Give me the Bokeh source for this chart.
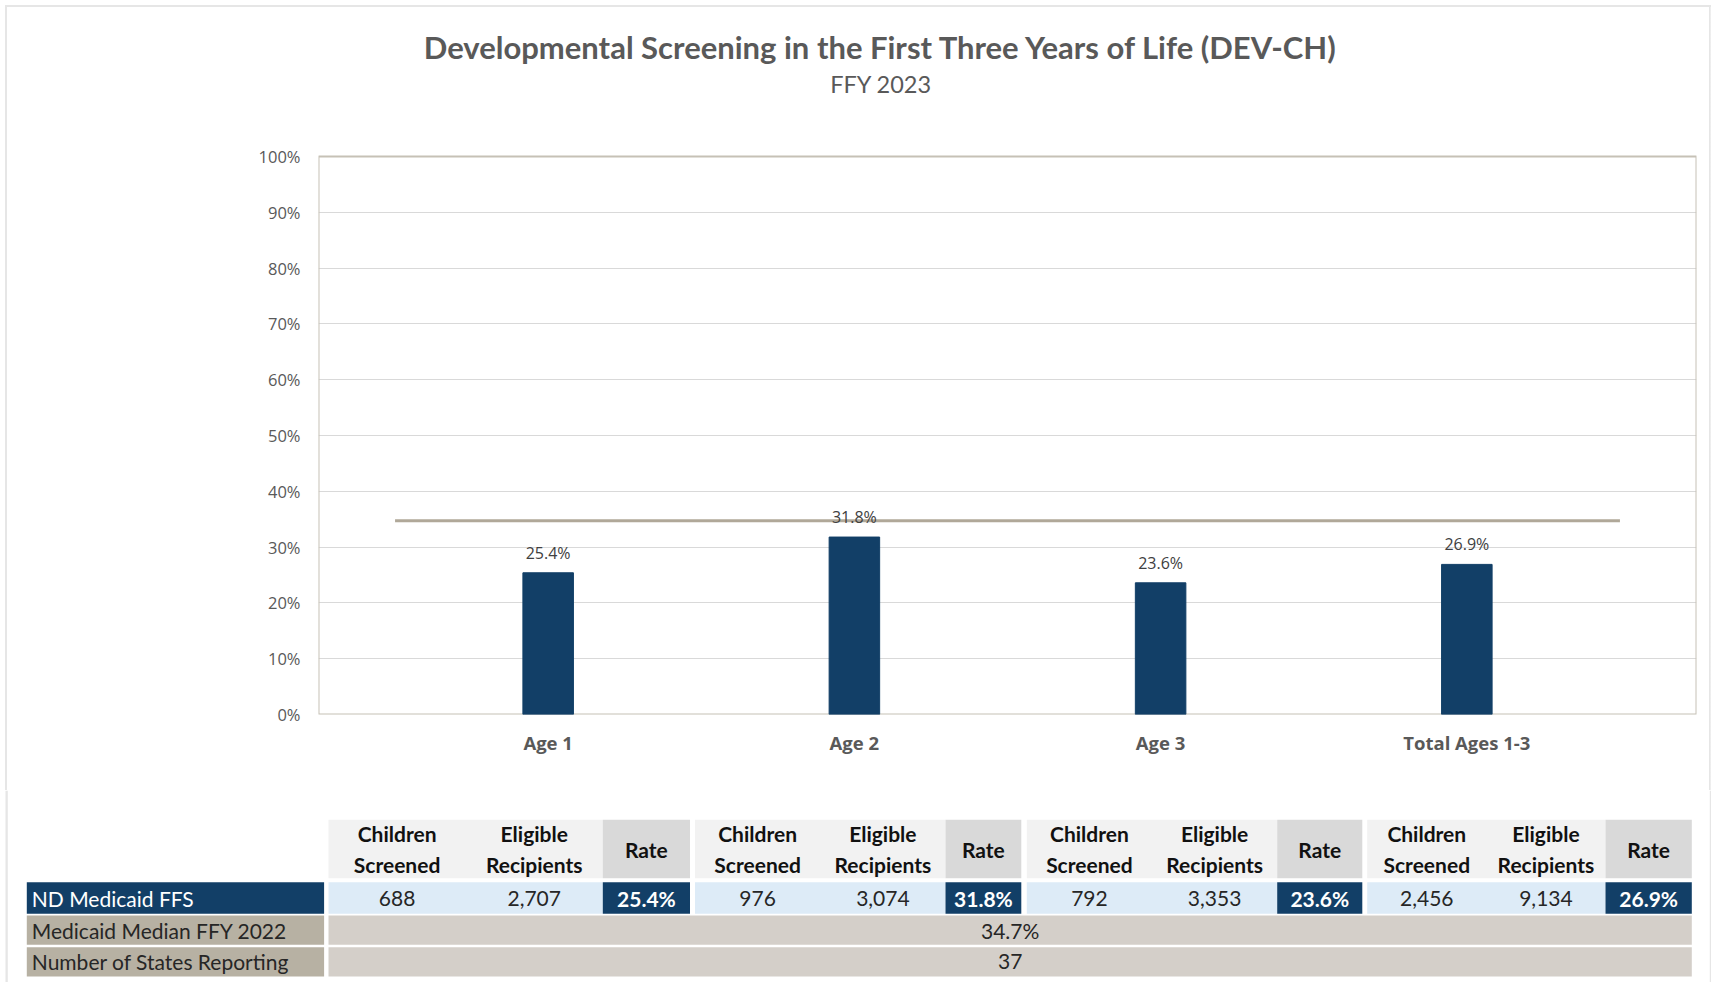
from bokeh.plotting import figure
from bokeh.models import Range1d, FixedTicker, NumeralTickFormatter, LabelSet, ColumnDataSource
from bokeh.core.properties import value
from bokeh.embed import file_html
from bokeh.resources import INLINE

# ---------------- data ----------------
categories = ["Age 1", "Age 2", "Age 3", "Total Ages 1-3"]
rates = [25.4, 31.8, 23.6, 26.9]                 # ND Medicaid FFS rate, %
children_screened = [688, 976, 792, 2456]
eligible_recipients = [2707, 3074, 3353, 9134]
median_ffy2022 = 34.7                             # Medicaid median FFY 2022, %
states_reporting = 37
y_tick_values = [0, 10, 20, 30, 40, 50, 60, 70, 80, 90, 100]
title_text = "Developmental Screening in the First Three Years of Life (DEV-CH)"
subtitle_text = "FFY 2023"
row_labels = ["ND Medicaid FFS", "Medicaid Median FFY 2022", "Number of States Reporting"]
header_lines = [["Children", "Screened"], ["Eligible", "Recipients"], ["Rate"]]

# ---------------- styles ----------------
NAVY = "#123F67"
GRAY_TXT = "#595959"
LINE_TAN = "#B0A899"
BORDER_TAN = "#C6C1B6"
GRID = "#D9D9D9"
HDR_LIGHT = "#F2F2F2"
HDR_RATE = "#D9D9D9"
LIGHT_BLUE = "#DDEBF7"
TAN_LABEL = "#B7B1A3"
GRAY_VALUE = "#D4CFC9"
OUTER = "#E6E6E6"
CAL = value("Lato")
SEG = value("Open Sans")

W = 1711
CH_H = 790
FL, FR, FT, FB = 318, 15, 0, 76
frame_w = W - FL - FR
frame_h = CH_H - FT - FB
px_per_unit = 558.0                 # pixels for 0..100%
y_end = frame_h / px_per_unit

n = len(categories)
xs = list(range(n))
x_start, x_end = -0.75, n - 1 + 0.75

p = figure(width=W, height=CH_H, title=None, toolbar_location=None, output_backend="svg",
           x_range=Range1d(x_start, x_end), y_range=Range1d(0, y_end),
           min_border_left=FL, min_border_right=FR, min_border_top=FT, min_border_bottom=FB)
p.outline_line_color = None
# transparent canvas over a white page background carrying the light outer chart border
p.background_fill_color = None
p.border_fill_color = None
g = f"linear-gradient({OUTER}, {OUTER})"
p.styles = {
    "background": (f"{g} 5px 5px / 2.3px {CH_H - 5}px no-repeat, "
                   f"{g} 5px 5px / {W - 5}px 2.3px no-repeat, "
                   f"{g} {W - 1.7}px 5px / 1.7px {CH_H - 5}px no-repeat, white")
}

# grid
p.xgrid.visible = False
p.ygrid.ticker = FixedTicker(ticks=[v / 100 for v in y_tick_values[1:-1]])
p.ygrid.grid_line_color = GRID
p.ygrid.grid_line_width = 1

# plot-area border
p.quad(left=[x_start], right=[x_end], bottom=[y_tick_values[0] / 100], top=[y_tick_values[-1] / 100],
       fill_color=None, line_color=BORDER_TAN, line_width=2)

# bars
src = ColumnDataSource(dict(x=xs, top=[r / 100 for r in rates],
                            label=[f"{r:.1f}%" for r in rates]))
p.vbar(x="x", top="top", width=0.165, source=src, fill_color=NAVY, line_color=NAVY)

# median line
p.line(x=[xs[0] - 0.5, xs[-1] + 0.5], y=[median_ffy2022 / 100] * 2, line_color=LINE_TAN, line_width=3)

# data labels
labels = LabelSet(x="x", y="top", text="label", source=src, y_offset=20,
                  text_align="center", text_baseline="middle",
                  text_font=SEG, text_font_size="16px", text_color="#404040")
p.add_layout(labels)

# titles (inside the extended frame, above 100%)
def px_to_x(px):
    return x_start + (px - FL) / frame_w * (x_end - x_start)

def py_to_y(py):
    return (frame_h - (py - FT)) / px_per_unit

p.text(x=[px_to_x(880.6)], y=[py_to_y(46)], text=[title_text], text_align="center",
       text_baseline="middle", text_font=CAL, text_font_size="31px", text_font_style="bold",
       text_color=GRAY_TXT)
p.text(x=[px_to_x(880.6)], y=[py_to_y(83)], text=[subtitle_text], text_align="center",
       text_baseline="middle", text_font=CAL, text_font_size="23.5px", text_color=GRAY_TXT)

# axes
p.yaxis.ticker = FixedTicker(ticks=[v / 100 for v in y_tick_values])
p.yaxis.formatter = NumeralTickFormatter(format="0%")
p.yaxis.axis_line_color = None
p.yaxis.major_tick_line_color = None
p.yaxis.major_tick_out = 0
p.yaxis.minor_tick_line_color = None
p.yaxis.major_label_standoff = 18
p.yaxis.major_label_text_font = "Open Sans"
p.yaxis.major_label_text_font_size = "16.5px"
p.yaxis.major_label_text_color = GRAY_TXT

p.xaxis.ticker = FixedTicker(ticks=xs)
p.xaxis.major_label_overrides = {i: c for i, c in zip(xs, categories)}
p.xaxis.axis_line_color = None
p.xaxis.major_tick_line_color = None
p.xaxis.major_tick_out = 0
p.xaxis.minor_tick_line_color = None
p.xaxis.major_label_standoff = 15
p.xaxis.major_label_text_font = "Open Sans"
p.xaxis.major_label_text_font_style = "bold"
p.xaxis.major_label_text_font_size = "18.5px"
p.xaxis.major_label_text_color = GRAY_TXT

# ---------------- table ----------------
TB_H = 192
t = figure(width=W, height=TB_H, title=None, toolbar_location=None, output_backend="svg",
           x_range=Range1d(0, W), y_range=Range1d(CH_H + TB_H, CH_H),
           min_border=0, min_border_left=0, min_border_right=0, min_border_top=0, min_border_bottom=0)
t.axis.visible = False
t.grid.visible = False
t.outline_line_color = None
t.background_fill_color = "white"
t.border_fill_color = "white"

# outer border continues down the sides
t.quad(left=[5, W - 1.7], right=[7.3, W], top=[CH_H, CH_H], bottom=[CH_H + TB_H] * 2,
       fill_color=OUTER, line_color=None)

label_col = (26.3, 323.6)
groups = [(328.0, 602.3, 689.5), (694.5, 945.0, 1020.8), (1026.3, 1276.7, 1361.8), (1366.7, 1605.0, 1691.3)]
rows_y = [(819.3, 877.7), (881.7, 913.3), (915.0, 944.3), (946.7, 976.0)]

L, R, T_, B, C = [], [], [], [], []
def cell(l, r, top, bot, col):
    L.append(l); R.append(r); T_.append(top); B.append(bot); C.append(col)

hdr, nd, med, st = rows_y
cell(label_col[0], label_col[1], nd[0], nd[1], NAVY)
cell(label_col[0], label_col[1], med[0], med[1], TAN_LABEL)
cell(label_col[0], label_col[1], st[0], st[1], TAN_LABEL)
for g0, gr, g1 in groups:
    cell(g0, gr, hdr[0], hdr[1], HDR_LIGHT)
    cell(gr, g1, hdr[0], hdr[1], HDR_RATE)
    cell(g0, gr, nd[0], nd[1], LIGHT_BLUE)
    cell(gr, g1, nd[0], nd[1], NAVY)
cell(groups[0][0], groups[-1][2], med[0], med[1], GRAY_VALUE)
cell(groups[0][0], groups[-1][2], st[0], st[1], GRAY_VALUE)
t.quad(left=L, right=R, top=T_, bottom=B, fill_color=C, line_color=None)

# header texts
hx, hy, ht = [], [], []
hc = (hdr[0] + hdr[1]) / 2
for g0, gr, g1 in groups:
    mid = (g0 + gr) / 2
    centers = [(g0 + mid) / 2, (mid + gr) / 2, (gr + g1) / 2]
    for cx, lines in zip(centers, header_lines):
        if len(lines) == 2:
            hx += [cx, cx]; hy += [hc - 15.3, hc + 15.3]; ht += lines
        else:
            hx.append(cx); hy.append(hc); ht.append(lines[0])
t.text(x=hx, y=hy, text=ht, text_align="center", text_baseline="middle", text_font=CAL,
       text_font_size="21px", text_font_style="bold", text_color="#111111")

# row label texts
ry = [(r[0] + r[1]) / 2 for r in (nd, med, st)]
t.text(x=[label_col[0] + 5], y=[ry[0]], text=[row_labels[0]], text_align="left", text_baseline="middle",
       text_font=CAL, text_font_size="21px", text_color="white")
t.text(x=[label_col[0] + 5] * 2, y=ry[1:], text=row_labels[1:], text_align="left", text_baseline="middle",
       text_font=CAL, text_font_size="21px", text_color="#262626")

# ND values
vx, vy, vt = [], [], []
rx, rt = [], []
for (g0, gr, g1), cs, er, rr in zip(groups, children_screened, eligible_recipients, rates):
    mid = (g0 + gr) / 2
    vx += [(g0 + mid) / 2, (mid + gr) / 2]
    vy += [ry[0], ry[0]]
    vt += [f"{cs:,}", f"{er:,}"]
    rx.append((gr + g1) / 2); rt.append(f"{rr:.1f}%")
t.text(x=vx, y=vy, text=vt, text_align="center", text_baseline="middle", text_font=CAL,
       text_font_size="21px", text_color="#262626")
t.text(x=rx, y=[ry[0]] * len(rx), text=rt, text_align="center", text_baseline="middle", text_font=CAL,
       text_font_size="21px", text_font_style="bold", text_color="white")

# median / states values
span_c = (groups[0][0] + groups[-1][2]) / 2
t.text(x=[span_c, span_c], y=ry[1:], text=[f"{median_ffy2022:.1f}%", f"{states_reporting}"],
       text_align="center", text_baseline="middle", text_font=CAL, text_font_size="21px",
       text_color="#262626")

open("out.html", "w").write(file_html([p, t], INLINE))
